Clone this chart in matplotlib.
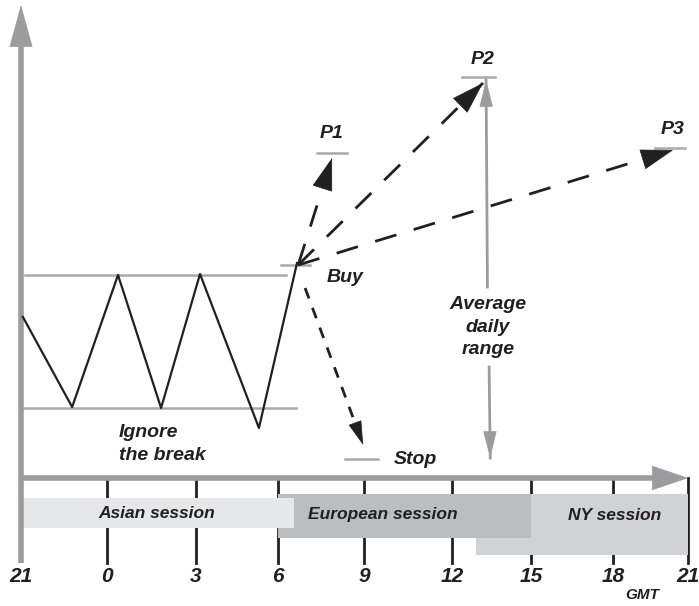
import matplotlib
matplotlib.use('Agg')
import matplotlib.pyplot as plt
from matplotlib.patches import Rectangle

plt.rcParams['font.family'] = ['Liberation Sans', 'DejaVu Sans']

# x in hours after 21:00 GMT, y in price units (0 = time axis)
tick_pos = [0, 3.1, 6.3, 9.25, 12.35, 15.5, 18.35, 21.3, 24]
tick_labels = ['21', '0', '3', '6', '9', '12', '15', '18', '21']

# Asian range: zigzag price path and range lines
zig_x = [0.07, 1.84, 3.49, 5.04, 6.44, 8.56, 9.93]
zig_y = [40.25, 17.75, 50.75, 17.5, 51.0, 12.5, 53.75]
range_high = 50.75
range_low = 17.5
range_high_x = [0.14, 9.54]
range_low_x = [0.07, 9.9]

# entry and targets
buy_x, buy_y = 9.97, 53.25
buy_mark_x = [9.36, 10.4]
targets = {
    'P1': dict(tip=(11.19, 80.0), mark_x=[10.65, 11.73], mark_y=81.25, label=(11.16, 86.25)),
    'P2': dict(tip=(16.62, 98.75), mark_x=[15.87, 17.06], mark_y=100.25, label=(16.62, 104.5)),
    'P3': dict(tip=(23.46, 82.0), mark_x=[22.81, 23.89], mark_y=82.5, label=(23.43, 87.25)),
}
stop_start = (10.22, 47.5)
stop_tip = (12.31, 8.25)
stop_mark_x = [11.66, 12.85]
stop_mark_y = 4.75

# average daily range arrow
adr_top = (16.73, 99.5)
adr_top_base = (16.78, 47.75)
adr_bot_base = (16.84, 27.75)
adr_bot = (16.88, 5.0)

# trading sessions: name, start, end, bottom, top, colour, label x, label y
sessions = [
    ('NY session', 16.37, 24.0, -19.25, -4.0, '#d1d2d4', 21.37, -9.25),
    ('European session', 9.25, 18.35, -15.0, -4.0, '#bcbdbf', 13.03, -9.25),
    ('Asian session', 0.0, 9.82, -12.5, -5.0, '#e6e7e8', 4.89, -8.75),
]

axis_grey = '#9b9c9e'
mark_grey = '#a7a9ac'
ink = '#231f20'
font = dict(fontweight='bold', fontstyle='italic', color=ink)


def head(tip, start, length, width, color):
    # filled arrow head only, pointing from start towards tip
    back = (tip[0] - 0.01 * (tip[0] - start[0]), tip[1] - 0.01 * (tip[1] - start[1]))
    ax.annotate('', xy=tip, xytext=back, zorder=6,
                arrowprops=dict(arrowstyle=f'-|>,head_length={length},head_width={width}',
                                mutation_scale=10, lw=0.5, color=color, shrinkA=0, shrinkB=0))


fig = plt.figure(figsize=(6.99, 6.06), dpi=100)
ax = fig.add_axes([0, 0, 1, 1])
ax.set_xlim(-0.755, 24.39)
ax.set_ylim(-32, 119.5)
ax.axis('off')

# ticks (drawn under the session bars)
for t in tick_pos[1:]:
    ax.plot([t, t], [0, -21.25], color=ink, lw=2, zorder=1)

for name, x0, x1, b, t, c, lx, ly in sessions:
    ax.add_patch(Rectangle((x0, b), x1 - x0, t - b, facecolor=c, edgecolor='none', zorder=2))
    ax.text(lx, ly, name, ha='center', va='center', fontsize=12.5, zorder=3, **font)

for t, lab in zip(tick_pos, tick_labels):
    ax.text(t, -24.5, lab, ha='center', va='center', fontsize=15, **font)
ax.text(22.35, -29.25, 'GMT', ha='center', va='center', fontsize=11, **font)

# axes arrows
ax.plot([0, 23.0], [0, 0], color=axis_grey, lw=4, solid_capstyle='butt', zorder=4)
head((24, 0), (0, 0), 2.5, 0.85, axis_grey)
ax.plot([0, 0], [-21.25, 110], color=axis_grey, lw=4, solid_capstyle='butt', zorder=4)
head((0, 118.25), (0, 0), 2.9, 0.8, axis_grey)

# range lines and price path
ax.plot(range_high_x, [range_high] * 2, color=mark_grey, lw=1.8, zorder=3)
ax.plot(range_low_x, [range_low] * 2, color=mark_grey, lw=1.8, zorder=3)
ax.plot(zig_x, zig_y, color=ink, lw=1.6, zorder=4)
ax.plot(buy_mark_x, [buy_y] * 2, color=mark_grey, lw=1.8, zorder=3)

# targets
for name, d in targets.items():
    tx, ty = d['tip']
    ax.plot([buy_x, tx], [buy_y, ty], color=ink, lw=2, dashes=(8, 6.5), zorder=5)
    head(d['tip'], (buy_x, buy_y), 2.2, 0.7, ink)
    ax.plot(d['mark_x'], [d['mark_y']] * 2, color=mark_grey, lw=1.8, zorder=3)
    ax.text(d['label'][0], d['label'][1], name, ha='center', va='center', fontsize=14, **font)

# stop
ax.plot([stop_start[0], stop_tip[0]], [stop_start[1], stop_tip[1]], color=ink, lw=2,
        dashes=(4, 3.6), zorder=5)
head(stop_tip, stop_start, 1.6, 0.45, ink)
ax.plot(stop_mark_x, [stop_mark_y] * 2, color=mark_grey, lw=1.8, zorder=3)
ax.text(14.18, 4.5, 'Stop', ha='center', va='center', fontsize=14, **font)

# average daily range
for tip, base in [(adr_top, adr_top_base), (adr_bot, adr_bot_base)]:
    ax.plot([base[0], tip[0]], [base[1], tip[1]], color=axis_grey, lw=2, zorder=4)
    head(tip, base, 1.8, 0.45, axis_grey)
ax.text(16.8, 37.75, 'Average\ndaily\nrange', ha='center', va='center', fontsize=14,
        linespacing=1.4, **font)

ax.text(11.01, 50.25, 'Buy', ha='left', va='center', fontsize=14, **font)
ax.text(3.53, 8.5, 'Ignore\nthe break', ha='left', va='center', fontsize=14, linespacing=1.4, **font)

fig.savefig('out.png', dpi=100)
